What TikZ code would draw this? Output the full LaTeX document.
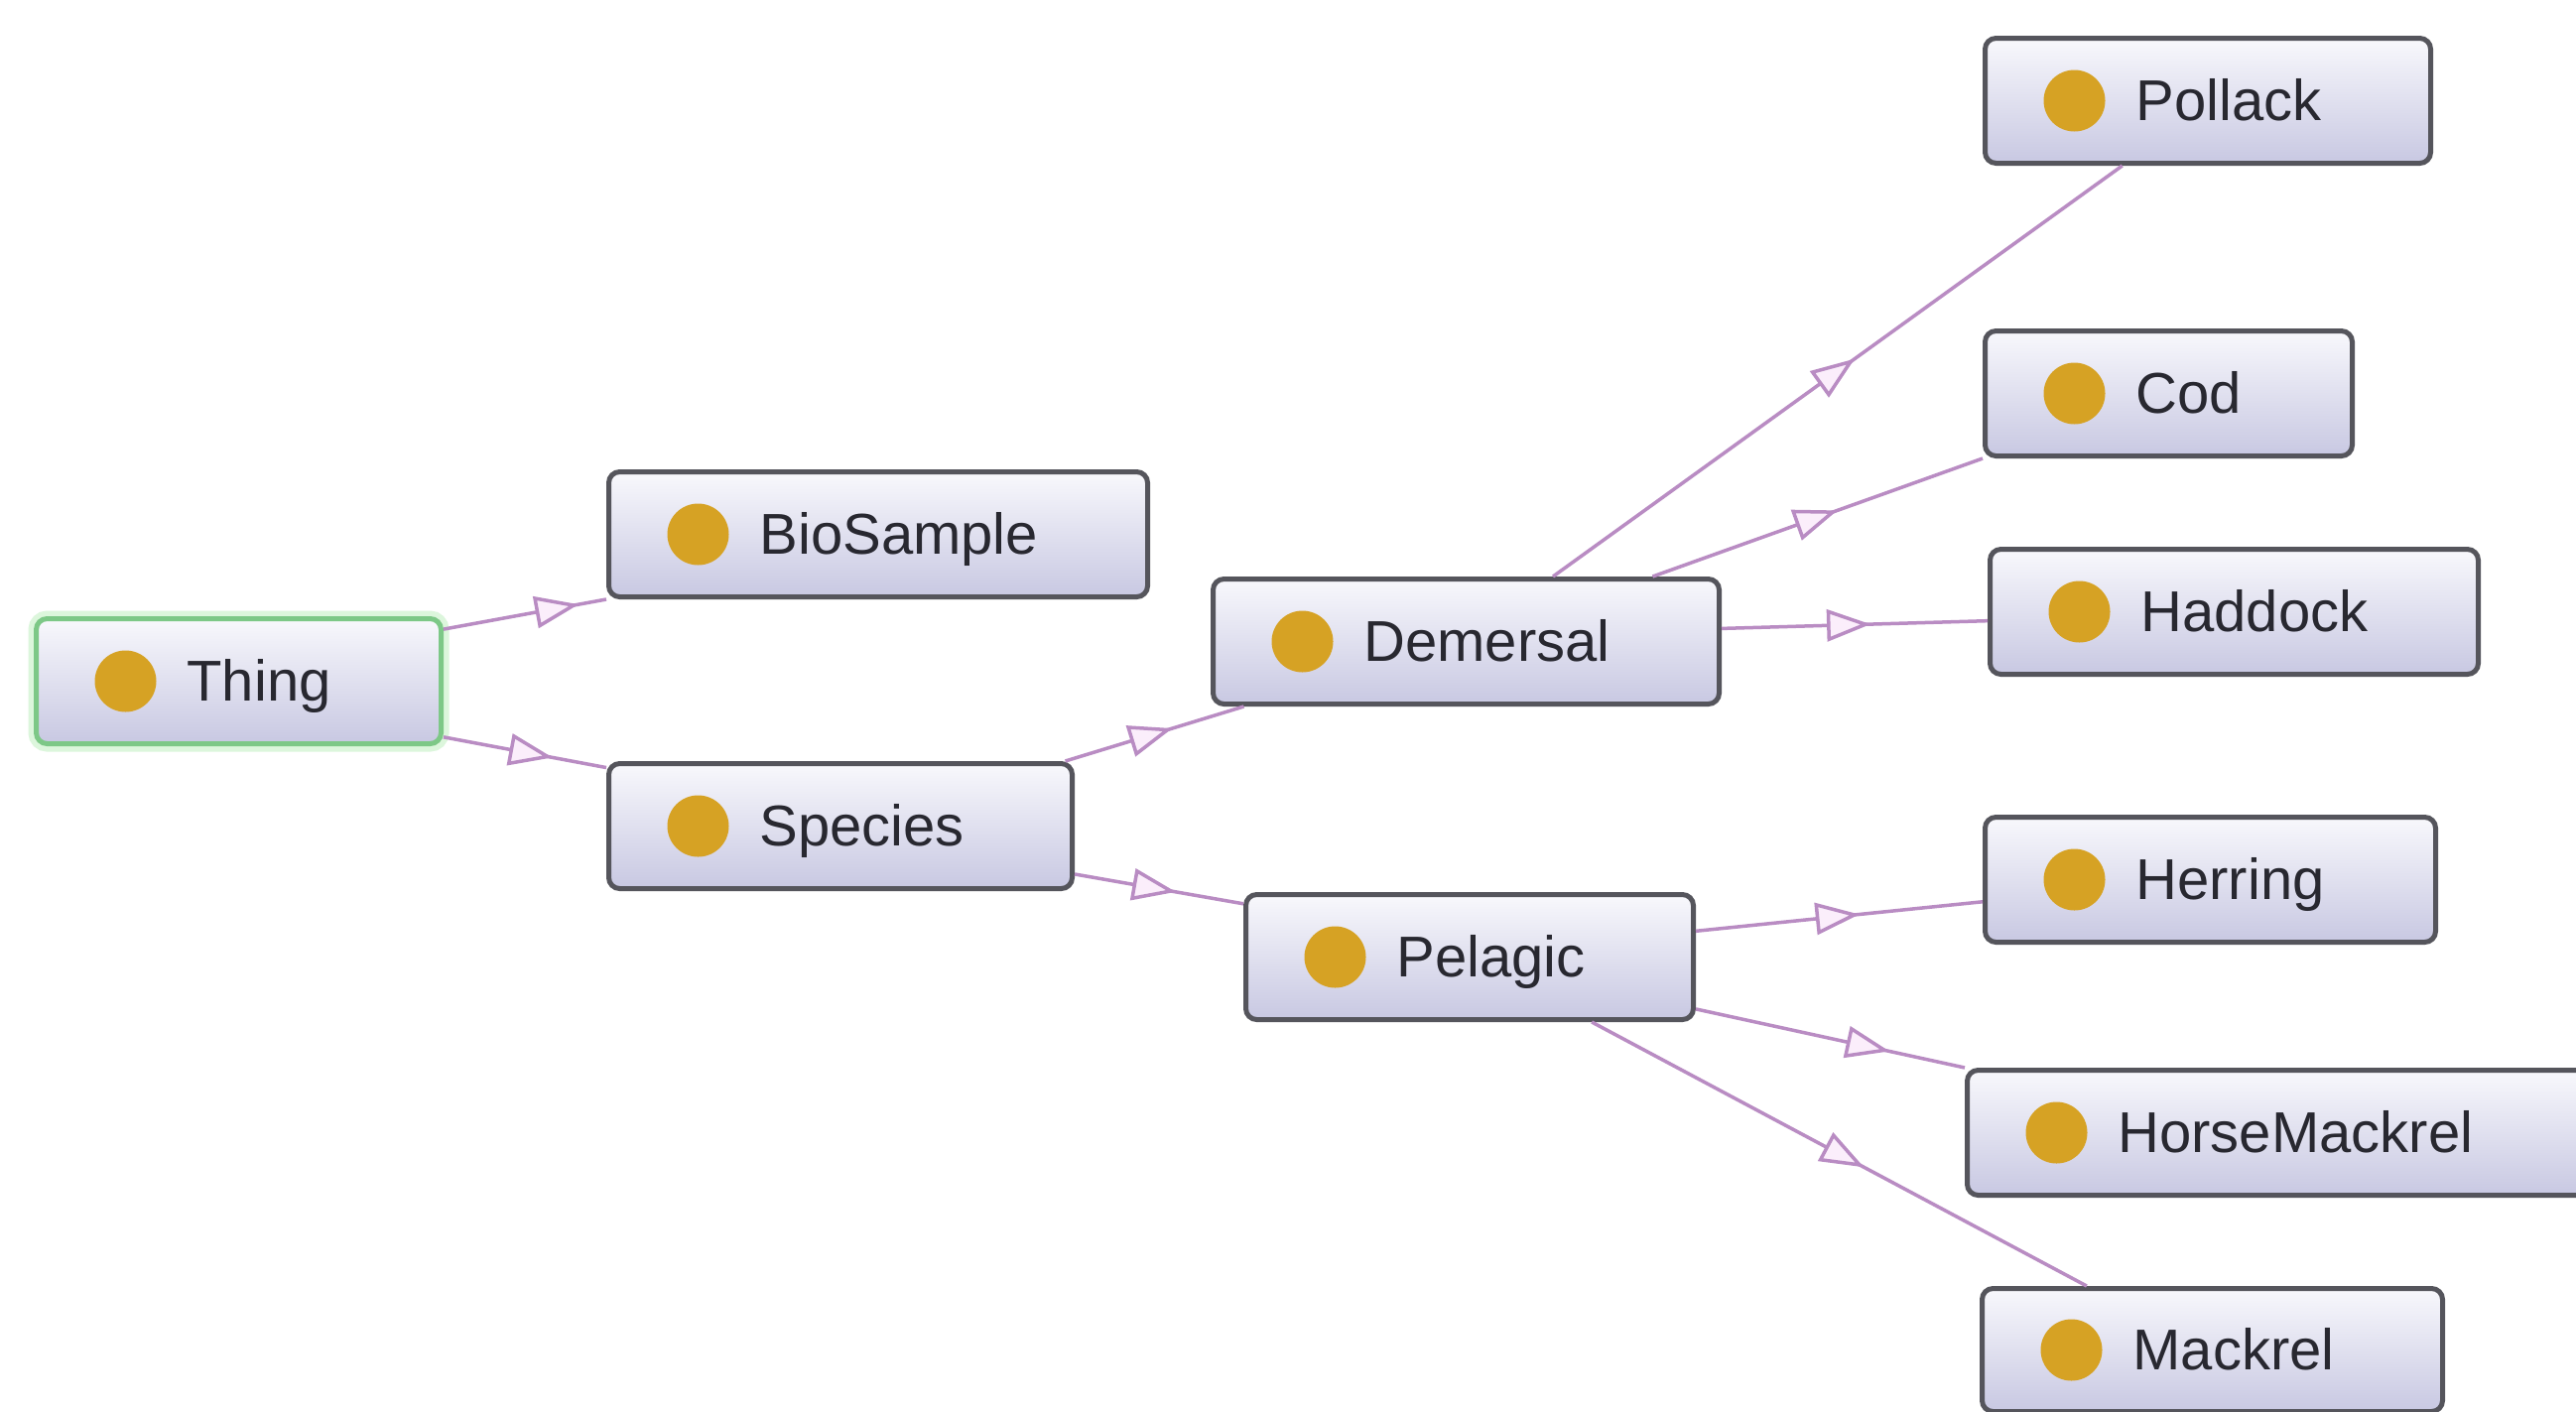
\documentclass[tikz,border=0pt]{standalone}
\usepackage{fontspec}
\setmainfont{Liberation Sans}
\usetikzlibrary{calc,arrows.meta,decorations.markings}

\definecolor{boxtop}{RGB}{248,248,252}
\definecolor{boxbot}{RGB}{200,200,226}
\definecolor{boxline}{RGB}{85,85,92}
\definecolor{rootline}{RGB}{125,200,135}
\definecolor{rootglow}{RGB}{220,246,220}
\definecolor{dotfill}{RGB}{214,162,36}
\definecolor{edgecol}{RGB}{185,140,195}
\definecolor{trifill}{RGB}{251,238,251}
\definecolor{labelcol}{RGB}{40,40,48}

\begin{document}
\begin{tikzpicture}[x=1pt,y=-1pt,
  cls/.style={anchor=north west, rectangle, rounded corners=11pt,
    draw=boxline, line width=5pt, top color=boxtop, bottom color=boxbot,
    inner xsep=0pt, inner ysep=0pt, align=left, text width=#1,
    text height=52pt, text depth=12pt, minimum height=126pt,
    font=\fontsize{58}{70}\selectfont, text=labelcol,
    path picture={\fill[dotfill] ([xshift=90pt]path picture bounding box.west) circle (31pt);}},
  rootcls/.style={cls=#1, draw=rootline, preaction={draw=rootglow, line width=16pt}},
  isa/.style={draw=edgecol, line width=3.5pt, postaction={decorate},
    decoration={markings, mark=at position #1 with
      {\arrow{Triangle[length=44pt,width=32pt,fill=trifill]}}}},
  isa/.default=0.56]

\useasboundingbox (0,0) rectangle (2596,1422);
\clip (0,0) rectangle (2596,1422);
\fill[white] (0,0) rectangle (2596,1422);

% class boxes
\node[rootcls=408pt] (thing) at (34,621) {\hspace*{152pt}Thing};
\node[cls=543pt] (bio) at (611,473) {\hspace*{152pt}BioSample};
\node[cls=467pt] (species) at (611,767) {\hspace*{152pt}Species};
\node[cls=510pt] (dem) at (1220,581) {\hspace*{152pt}Demersal};
\node[cls=451pt] (pel) at (1253,899) {\hspace*{152pt}Pelagic};
\node[cls=449pt] (pollack) at (1998,36) {\hspace*{152pt}Pollack};
\node[cls=370pt] (cod) at (1998,331) {\hspace*{152pt}Cod};
\node[cls=492pt] (haddock) at (2003,551) {\hspace*{152pt}Haddock};
\node[cls=454pt] (herring) at (1998,821) {\hspace*{152pt}Herring};
\node[cls=640pt] (horse) at (1980,1076) {\hspace*{152pt}HorseMackrel};
\node[cls=464pt, minimum height=124pt] (mackrel) at (1995,1296) {\hspace*{152pt}Mackrel};

% subclass connectors
\path[isa=0.83] ($(thing.north east)!0.10!(thing.south east)$) -- (bio.south west);
\path[isa=0.67] ($(thing.north east)!0.93!(thing.south east)$) -- ($(species.north west)!0.05!(species.south west)$);
\path[isa=0.60] ($(species.north west)!0.98!(species.north east)$) -- ($(dem.south west)!0.065!(dem.south east)$);
\path[isa=0.60] ($(species.north east)!0.87!(species.south east)$) -- ($(pel.north west)!0.09!(pel.south west)$);
\path[isa=0.53] ($(dem.north west)!0.67!(dem.north east)$) -- ($(pollack.south west)!0.31!(pollack.south east)$);
\path[isa=0.56] ($(dem.north west)!0.865!(dem.north east)$) -- (cod.south west);
\path[isa=0.56] ($(dem.north east)!0.40!(dem.south east)$) -- ($(haddock.north west)!0.57!(haddock.south west)$);
\path[isa=0.57] ($(pel.north east)!0.30!(pel.south east)$) -- ($(herring.north west)!0.67!(herring.south west)$);
\path[isa=0.72] ($(pel.north east)!0.90!(pel.south east)$) -- (horse.north west);
\path[isa=0.55] ($(pel.south west)!0.77!(pel.south east)$) -- ($(mackrel.north west)!0.23!(mackrel.north east)$);
\end{tikzpicture}
\end{document}
